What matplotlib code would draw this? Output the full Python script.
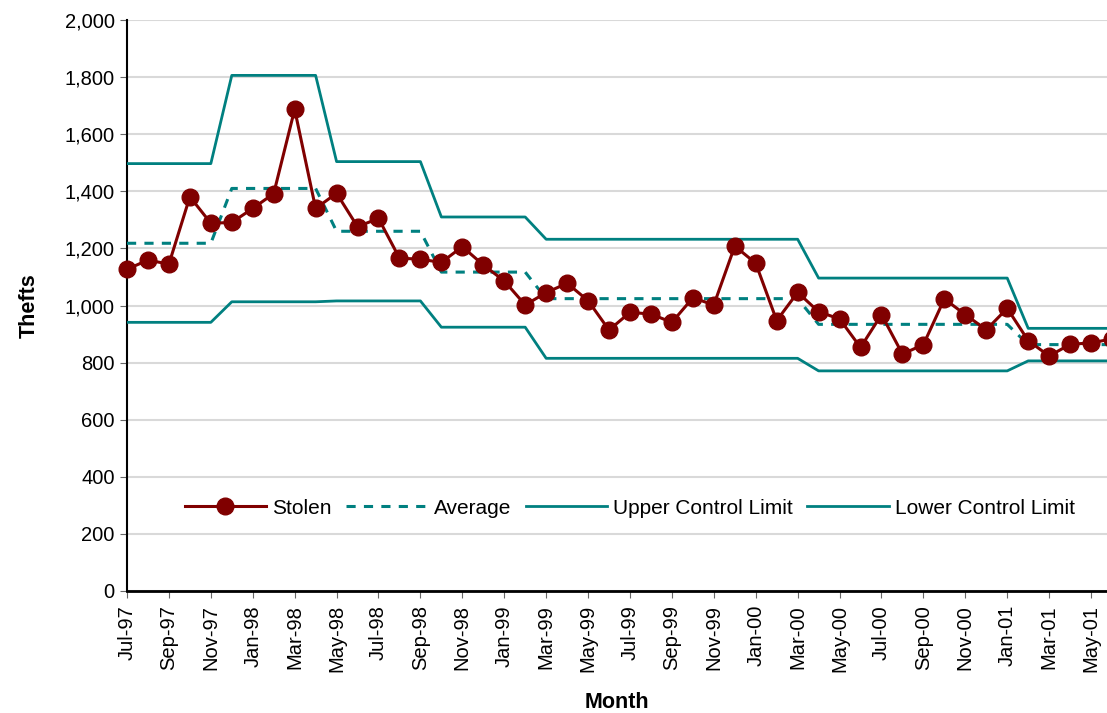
import matplotlib.pyplot as plt
from matplotlib.ticker import FuncFormatter

plt.rcParams['font.family'] = ['Liberation Sans', 'DejaVu Sans']

months = ['Jul-97', 'Aug-97', 'Sep-97', 'Oct-97', 'Nov-97', 'Dec-97', 'Jan-98', 'Feb-98',
          'Mar-98', 'Apr-98', 'May-98', 'Jun-98', 'Jul-98', 'Aug-98', 'Sep-98', 'Oct-98',
          'Nov-98', 'Dec-98', 'Jan-99', 'Feb-99', 'Mar-99', 'Apr-99', 'May-99', 'Jun-99',
          'Jul-99', 'Aug-99', 'Sep-99', 'Oct-99', 'Nov-99', 'Dec-99', 'Jan-00', 'Feb-00',
          'Mar-00', 'Apr-00', 'May-00', 'Jun-00', 'Jul-00', 'Aug-00', 'Sep-00', 'Oct-00',
          'Nov-00', 'Dec-00', 'Jan-01', 'Feb-01', 'Mar-01', 'Apr-01', 'May-01', 'Jun-01']

stolen = [1127, 1159, 1145, 1381, 1288, 1291, 1340, 1392, 1687, 1340,
          1393, 1276, 1305, 1166, 1162, 1151, 1206, 1142, 1086, 1002,
          1045, 1078, 1017, 914, 976, 970, 941, 1027, 1002, 1208,
          1148, 947, 1046, 978, 953, 853, 968, 830, 863, 1023,
          968, 915, 990, 877, 823, 864, 869, 883]

average = [1218] * 5 + [1410] * 5 + [1260] * 5 + [1117] * 5 + [1024] * 13 + [934] * 10 + [863] * 5
ucl = [1497] * 5 + [1806] * 5 + [1504] * 5 + [1310] * 5 + [1232] * 13 + [1096] * 10 + [920] * 5
lcl = [941] * 5 + [1013] * 5 + [1016] * 5 + [924] * 5 + [815] * 13 + [771] * 10 + [806] * 5

red = '#800000'
teal = '#008080'

fig = plt.figure(figsize=(11.07, 7.13), dpi=100)
ax = fig.add_axes([127 / 1107, 122 / 713, 980 / 1107, 571 / 713])

x = list(range(len(months)))
ax.plot(x, stolen, color=red, lw=2.2, marker='o', ms=12, label='Stolen', zorder=5, clip_on=False)
ax.plot(x, average, color=teal, lw=2.2, ls=(0, (3, 2.7)), label='Average', zorder=3)
ax.plot(x, ucl, color=teal, lw=2.0, label='Upper Control Limit', zorder=3)
ax.plot(x, lcl, color=teal, lw=2.0, label='Lower Control Limit', zorder=3)

ax.set_xlim(0, 46.76)
ax.set_ylim(0, 2000)
ax.set_yticks(range(0, 2001, 200))
ax.yaxis.set_major_formatter(FuncFormatter(lambda v, p: f'{int(v):,}'))
ax.set_xticks(x[::2])
ax.set_xticklabels(months[::2], rotation=90)
ax.tick_params(axis='both', labelsize=14.5, direction='out', length=5, color='#666666')
ax.tick_params(axis='x', pad=5)
ax.tick_params(axis='y', pad=4)

ax.grid(axis='y', color='#d9d9d9', lw=1.5)
ax.set_axisbelow(True)
for s in ['top', 'right']:
    ax.spines[s].set_visible(False)
ax.spines['left'].set_linewidth(1.5)
ax.spines['bottom'].set_linewidth(2)

ax.set_ylabel('Thefts', fontsize=15.5, fontweight='bold', labelpad=18)
ax.set_xlabel('Month', fontsize=15.5, fontweight='bold', labelpad=14)

ax.legend(loc='center', bbox_to_anchor=(0.513, 0.145), ncol=4, frameon=False,
          fontsize=15, handlelength=3.9, handletextpad=0.3, columnspacing=0.7)

fig.savefig('out.png', dpi=100)
